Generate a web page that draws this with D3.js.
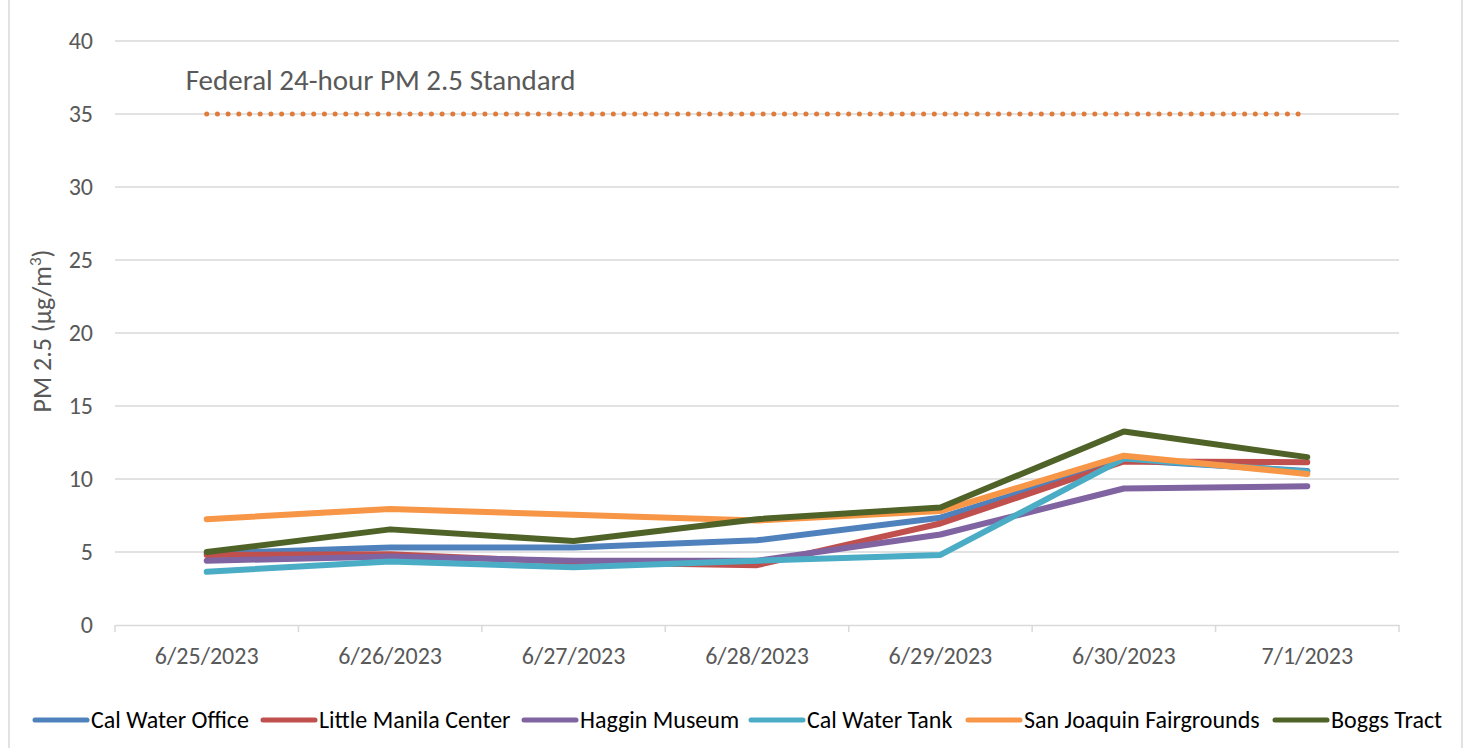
<!DOCTYPE html>
<html>
<head>
<meta charset="utf-8">
<script src="https://cdn.jsdelivr.net/npm/d3@7"></script>
<style>
body{margin:0;background:#fff;}
svg{display:block;}
svg text{font-family:Carlito,Lato,"Open Sans",sans-serif;}
.tick text{fill:#595959;font-size:24px;}
</style>
</head>
<body>
<svg width="1467" height="748"></svg>
<script>
var dates = ["6/25/2023","6/26/2023","6/27/2023","6/28/2023","6/29/2023","6/30/2023","7/1/2023"];
var seriesNames = ["Cal Water Office","Little Manila Center","Haggin Museum","Cal Water Tank","San Joaquin Fairgrounds","Boggs Tract"];
var calWaterOffice = [4.9, 5.3, 5.3, 5.8, 7.35, 11.3, 10.55];
var littleManila = [4.8, 4.85, 4.3, 4.1, 6.95, 11.2, 11.15];
var hagginMuseum = [4.4, 4.7, 4.4, 4.4, 6.2, 9.35, 9.5];
var calWaterTank = [3.65, 4.35, 3.95, 4.4, 4.8, 11.4, 10.5];
var fairgrounds = [7.25, 7.95, 7.55, 7.15, 7.8, 11.6, 10.35];
var boggsTract = [5.0, 6.55, 5.75, 7.25, 8.05, 13.25, 11.5];
var standard = 35;
var yTicks = [0,5,10,15,20,25,30,35,40];
var colors = ["#4f81bd","#c0504d","#8064a2","#4bacc6","#f79646","#4f6228"];

var allSeries = [calWaterOffice, littleManila, hagginMuseum, calWaterTank, fairgrounds, boggsTract];

var svg = d3.select("svg");
var margin = {"top":41,"left":115};
var width = 1399 - margin.left;
var height = 625 - margin.top;
var g = svg.append("g").attr("transform","translate("+margin.left+","+margin.top+")");

// outer chart border
svg.append("rect").attr("x",9).attr("y",-2).attr("width",1453).attr("height",752)
    .attr("fill","none").attr("stroke","#d9d9d9").attr("stroke-width",1.5);

var x = d3.scaleBand().domain(dates).range([0,width]);
var y = d3.scaleLinear().domain([0,40]).range([height,0]);
var cx = function(d){return x(d)+x.bandwidth()/2;};

// gridlines
g.append("g").selectAll("line").data(yTicks.filter(function(t){return t>0;})).enter().append("line")
    .attr("x1",0).attr("x2",width)
    .attr("y1",function(d){return y(d);}).attr("y2",function(d){return y(d);})
    .attr("stroke","#d9d9d9").attr("stroke-width",1.5);

// y axis labels
var yAxis = g.append("g").call(d3.axisLeft(y).tickValues(yTicks).tickSize(0).tickPadding(22));
yAxis.select(".domain").remove();

// x axis
var xAxis = g.append("g").attr("transform","translate(0,"+height+")")
    .call(d3.axisBottom(x).tickSize(0).tickPadding(22));
xAxis.select(".domain").attr("stroke","#d9d9d9").attr("stroke-width",1.5);
xAxis.selectAll(".tick line").remove();
g.append("g").selectAll("line").data(d3.range(dates.length+1)).enter().append("line")
    .attr("x1",function(i){return i*x.step();}).attr("x2",function(i){return i*x.step();})
    .attr("y1",height).attr("y2",height+7)
    .attr("stroke","#d9d9d9").attr("stroke-width",1.5);

// axis title
svg.append("text")
    .attr("transform","translate(51,331) rotate(-90)")
    .attr("text-anchor","middle").attr("fill","#595959").style("font-size","26px")
    .html("PM 2.5 (µg/m<tspan baseline-shift='super' font-size='17px'>3</tspan>)");

// standard line
g.append("line")
    .attr("x1",cx(dates[0])).attr("x2",cx(dates[dates.length-1]))
    .attr("y1",y(standard)).attr("y2",y(standard))
    .attr("stroke","#e07b39").attr("stroke-width",5)
    .attr("stroke-linecap","round").attr("stroke-dasharray","0 10.7");
g.append("text").attr("x",cx(dates[0])-21).attr("y",y(37.35))
    .attr("dy","0.35em").attr("fill","#595959").style("font-size","29px")
    .text("Federal 24-hour PM 2.5 Standard");

var line = d3.line().x(function(d,i){return cx(dates[i]);}).y(function(d){return y(d);});

g.selectAll(".series").data(allSeries).enter().append("path")
    .attr("class","series")
    .attr("d",line)
    .attr("fill","none")
    .attr("stroke",function(d,i){return colors[i];})
    .attr("stroke-width",6)
    .attr("stroke-linecap","round")
    .attr("stroke-linejoin","round");

// legend
var legendStarts = [33,261,522,749,966,1273];
var leg = svg.append("g").selectAll("g").data(seriesNames).enter().append("g")
    .attr("transform",function(d,i){return "translate("+legendStarts[i]+",720)";});
leg.append("line").attr("x1",2).attr("x2",54).attr("y1",0).attr("y2",0)
    .attr("stroke",function(d,i){return colors[i];}).attr("stroke-width",5).attr("stroke-linecap","round");
leg.append("text").attr("x",58).attr("dy","0.35em").attr("fill","#000").style("font-size","24px")
    .text(function(d){return d;});
</script>
</body>
</html>
